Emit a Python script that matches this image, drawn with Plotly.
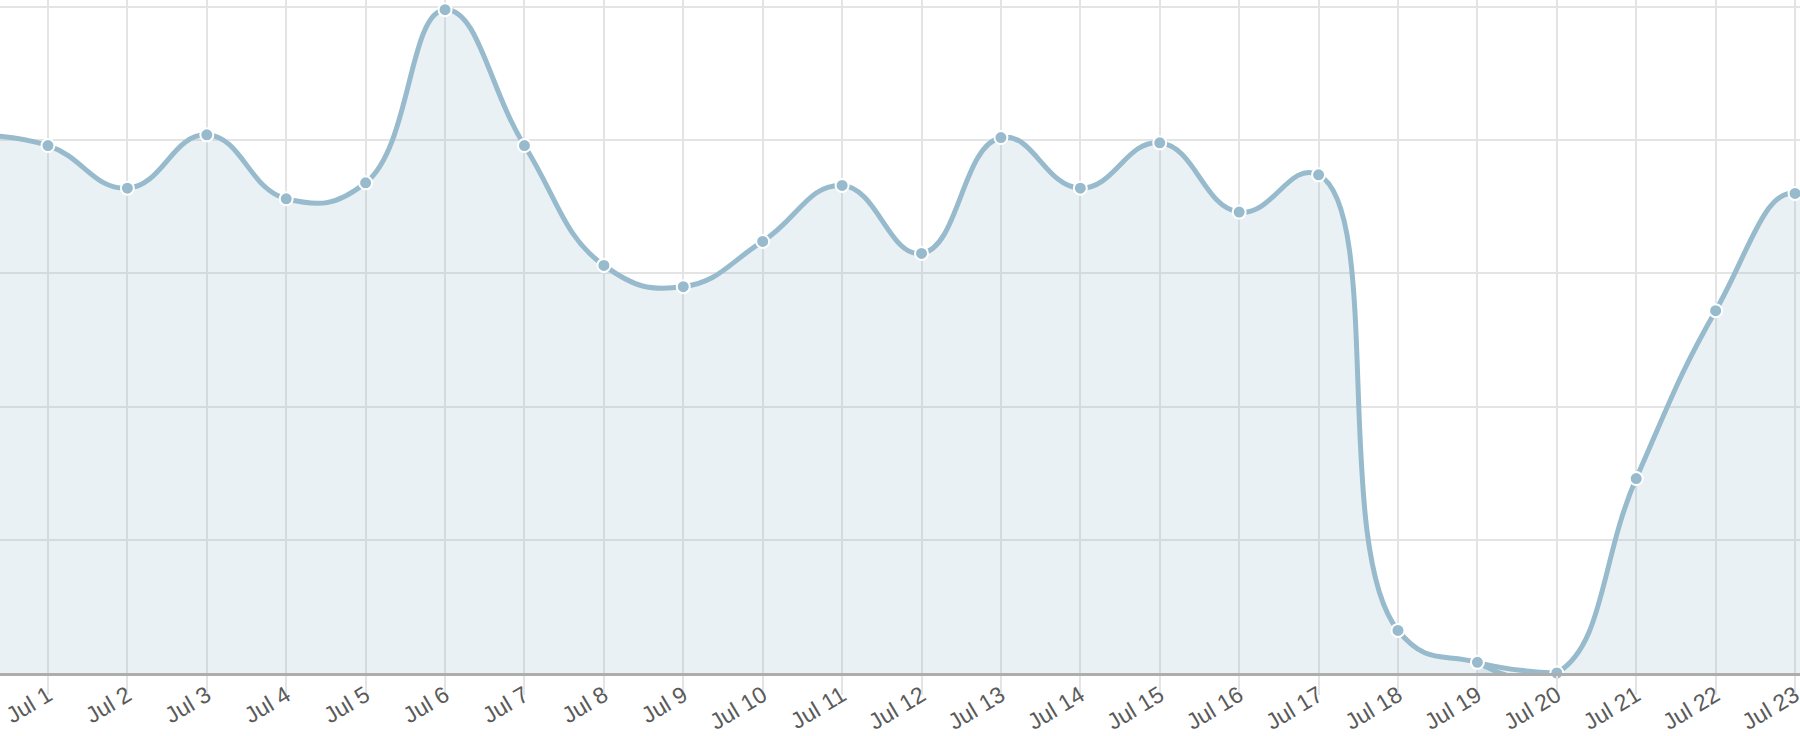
import pandas as pd
import plotly.graph_objs as go

# one point per day, Jun 30 and Jul 24 sit just outside the visible window
days = list(pd.date_range("2015-06-30", "2015-07-24", freq="D"))
values = [80.8, 79.2, 72.8, 80.8, 71.2, 73.6, 99.6, 79.2, 61.2, 58.0,
          64.8, 73.2, 63.0, 80.4, 72.8, 79.6, 69.2, 74.8, 6.4, 1.6,
          0.0, 29.2, 54.4, 72.0, 32.0]

line_color = "rgba(151,187,205,1)"
fill_color = "rgba(151,187,205,0.2)"

# the curve sits flat on the floor at the minimum; plotly's spline would dip
# below the axis there, so the falling and rising parts are drawn separately
low = values.index(min(values))
segments = [(0, low + 1), (low - 1, len(values))]

data = []
for start, stop in segments:
    data.append(go.Scatter(
        x=days[start:stop],
        y=values[start:stop],
        mode="lines",
        line=dict(color=line_color, width=5, shape="spline", smoothing=1.3),
        fill="tozeroy",
        fillcolor=fill_color,
        hoverinfo="skip",
    ))

data.append(go.Scatter(
    x=days,
    y=values,
    mode="markers",
    marker=dict(size=13, color=line_color, line=dict(color="white", width=2)),
    cliponaxis=False,
    hoverinfo="skip",
))

layout = go.Layout(
    width=1800,
    height=736,
    margin=dict(l=0, r=0, t=0, b=63, autoexpand=False),
    paper_bgcolor="white",
    plot_bgcolor="white",
    showlegend=False,
    font=dict(family="Liberation Sans, Arial, sans-serif", size=23, color="#5a5a5a"),
    xaxis=dict(
        type="date",
        range=["2015-06-30 09:30", "2015-07-23 01:30"],
        tick0="2015-07-01",
        dtick=86400000,
        tickformat="%b %-d",
        tickangle=-31,
        ticks="outside",
        ticklen=19,
        tickwidth=2,
        tickcolor="#e4e4e4",
        ticklabelstandoff=-22,
        ticklabeloverflow="allow",
        automargin=False,
        showgrid=True,
        gridcolor="#e4e4e4",
        gridwidth=2,
        showline=True,
        linecolor="#adadad",
        linewidth=3,
        zeroline=False,
        fixedrange=True,
    ),
    yaxis=dict(
        range=[0, 101.05],
        dtick=20,
        showticklabels=False,
        showgrid=True,
        gridcolor="#e4e4e4",
        gridwidth=2,
        zeroline=False,
        showline=False,
        automargin=False,
        fixedrange=True,
    ),
)

fig = go.Figure(data=data, layout=layout)
fig.write_html("out.html", config=dict(displayModeBar=False),
               post_script="document.body.style.margin='0';")
